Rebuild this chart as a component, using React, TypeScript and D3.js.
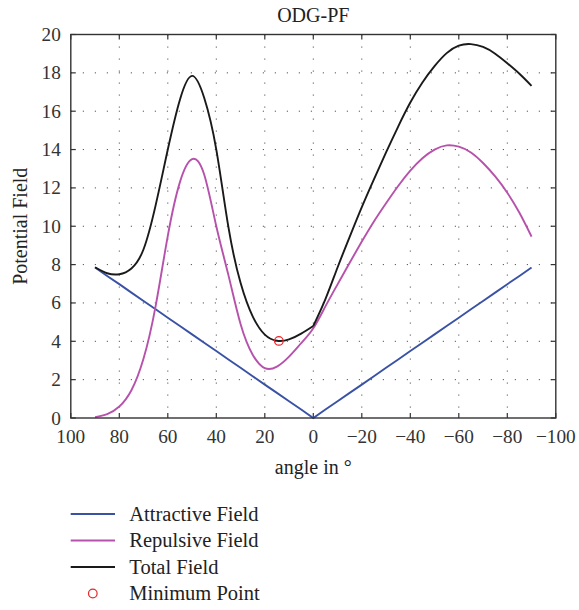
import React from "react";
import * as d3 from "d3";

const angles = [90, 85, 80, 75, 70, 65, 60, 55, 50, 45, 40, 35, 30, 25, 20, 15, 10, 5, 0,
  -5, -10, -15, -20, -25, -30, -35, -40, -45, -50, -55, -60, -65, -70, -75, -80, -85, -90];

const attractive = [7.85, 7.41, 6.98, 6.54, 6.1, 5.67, 5.23, 4.8, 4.36, 3.92, 3.49, 3.05, 2.62, 2.18, 1.74, 1.31, 0.87, 0.44, 0,
  0.44, 0.87, 1.31, 1.74, 2.18, 2.62, 3.05, 3.49, 3.92, 4.36, 4.8, 5.23, 5.67, 6.1, 6.54, 6.98, 7.41, 7.85];

const repulsive = [0.04, 0.2, 0.6, 1.45, 3.1, 5.85, 9.5, 12.3, 13.5, 12.7, 10.0, 7.45, 4.9, 3.3, 2.6, 2.68, 3.2, 3.9, 4.68,
  5.82, 6.97, 8.1, 9.2, 10.25, 11.2, 12.1, 12.9, 13.55, 14.0, 14.22, 14.15, 13.85, 13.3, 12.6, 11.75, 10.7, 9.46];

const total = [7.86, 7.55, 7.5, 7.8, 8.8, 11.1, 14.0, 16.6, 17.84, 16.7, 14.0, 9.95, 7.05, 5.3, 4.35, 4.03, 4.1, 4.4, 4.8,
  6.2, 7.85, 9.45, 11.0, 12.45, 13.85, 15.2, 16.45, 17.5, 18.35, 19.03, 19.42, 19.5, 19.35, 19.0, 18.5, 17.95, 17.32];

const minPointAngle = [14.2];
const minPointValue = [4.02];

const xTicks = [100, 80, 60, 40, 20, 0, -20, -40, -60, -80, -100];
const yTicks = [0, 2, 4, 6, 8, 10, 12, 14, 16, 18, 20];

const seriesNames = ["Attractive Field", "Repulsive Field", "Total Field", "Minimum Point"];
const seriesColors = ["#3a52a5", "#b752ac", "#1a1a1a", "#e8262a"];

const W = 579;
const H = 610;
const M = { left: 70.8, right: 555.8, top: 34.5, bottom: 418 };
const FONT = "'Liberation Serif', 'Times New Roman', serif";

type Pt = [number, number];

export default function App() {
  const x = d3.scaleLinear().domain([100, -100]).range([M.left, M.right]);
  const y = d3.scaleLinear().domain([0, 20]).range([M.bottom, M.top]);

  const pts = (vals: number[]): Pt[] => vals.map((v, i) => [angles[i], v] as Pt);
  const gen = (curve: d3.CurveFactory) =>
    d3
      .line<Pt>()
      .x((d) => x(d[0]))
      .y((d) => y(d[1]))
      .curve(curve);

  const attrPath = gen(d3.curveLinear)(pts(attractive)) || "";
  const repPath = gen(d3.curveNatural)(pts(repulsive)) || "";
  const totPts = pts(total);
  const totLeft = totPts.filter((p) => p[0] >= 0);
  const totRight = totPts.filter((p) => p[0] <= 0);
  const totPath = (gen(d3.curveNatural)(totLeft) || "") + (gen(d3.curveNatural)(totRight) || "");

  const fmt = (v: number) => (v < 0 ? "\u2212" + Math.abs(v) : String(v));
  const tickLen = 5;
  const legendY = [514, 540.5, 567, 593.5];

  return (
    <svg
      width={W}
      height={H}
      style={{ position: "absolute", left: 0, top: 0, background: "#fff" }}
      fontFamily={FONT}
    >
      <rect x={0} y={0} width={W} height={H} fill="#fff" />
      {/* grid */}
      <g stroke="#555" strokeWidth={1} strokeDasharray="1.2 10.8">
        {xTicks.slice(1, -1).map((t) => (
          <line key={"gx" + t} x1={x(t)} x2={x(t)} y1={M.top} y2={M.bottom} />
        ))}
        {yTicks.slice(1, -1).map((t) => (
          <line key={"gy" + t} x1={M.left} x2={M.right} y1={y(t)} y2={y(t)} />
        ))}
      </g>
      {/* tick marks inside */}
      <g stroke="#333" strokeWidth={1.2}>
        {xTicks.map((t) => (
          <g key={"tx" + t}>
            <line x1={x(t)} x2={x(t)} y1={M.bottom} y2={M.bottom - tickLen} />
            <line x1={x(t)} x2={x(t)} y1={M.top} y2={M.top + tickLen} />
          </g>
        ))}
        {yTicks.map((t) => (
          <g key={"ty" + t}>
            <line x1={M.left} x2={M.left + tickLen} y1={y(t)} y2={y(t)} />
            <line x1={M.right} x2={M.right - tickLen} y1={y(t)} y2={y(t)} />
          </g>
        ))}
      </g>
      {/* series */}
      <path d={attrPath} fill="none" stroke={seriesColors[0]} strokeWidth={1.9} />
      <path d={repPath} fill="none" stroke={seriesColors[1]} strokeWidth={1.9} />
      <path d={totPath} fill="none" stroke={seriesColors[2]} strokeWidth={1.9} strokeLinejoin="round" />
      {minPointAngle.map((a, i) => (
        <circle key={"mp" + i} cx={x(a)} cy={y(minPointValue[i])} r={4.3} fill="none" stroke={seriesColors[3]} strokeWidth={1.2} />
      ))}
      {/* frame */}
      <rect x={M.left} y={M.top} width={M.right - M.left} height={M.bottom - M.top} fill="none" stroke="#333" strokeWidth={1.4} />
      {/* tick labels */}
      <g fill="#333" fontSize={19.3}>
        {xTicks.map((t) => (
          <text key={"lx" + t} x={x(t)} y={443} textAnchor="middle">
            {fmt(t)}
          </text>
        ))}
        {yTicks.map((t) => (
          <text key={"ly" + t} x={M.left - 10} y={y(t) + 6.5} textAnchor="end">
            {fmt(t)}
          </text>
        ))}
      </g>
      {/* titles */}
      <text x={(M.left + M.right) / 2} y={22} textAnchor="middle" fontSize={20} fill="#222">
        ODG-PF
      </text>
      <text x={(M.left + M.right) / 2} y={474} textAnchor="middle" fontSize={20} fill="#222">
        angle in °
      </text>
      <text
        transform={`translate(27, ${(M.top + M.bottom) / 2}) rotate(-90)`}
        textAnchor="middle"
        fontSize={20}
        fill="#222"
      >
        Potential Field
      </text>
      {/* legend */}
      <g fontSize={20.5} fill="#222">
        {seriesNames.map((n, i) => (
          <g key={"lg" + i}>
            {i < 3 ? (
              <line x1={70.7} x2={115} y1={legendY[i]} y2={legendY[i]} stroke={seriesColors[i]} strokeWidth={1.9} />
            ) : (
              <circle cx={92.8} cy={legendY[i]} r={4.3} fill="none" stroke={seriesColors[i]} strokeWidth={1.2} />
            )}
            <text x={129.3} y={legendY[i] + 6.5}>
              {n}
            </text>
          </g>
        ))}
      </g>
    </svg>
  );
}
